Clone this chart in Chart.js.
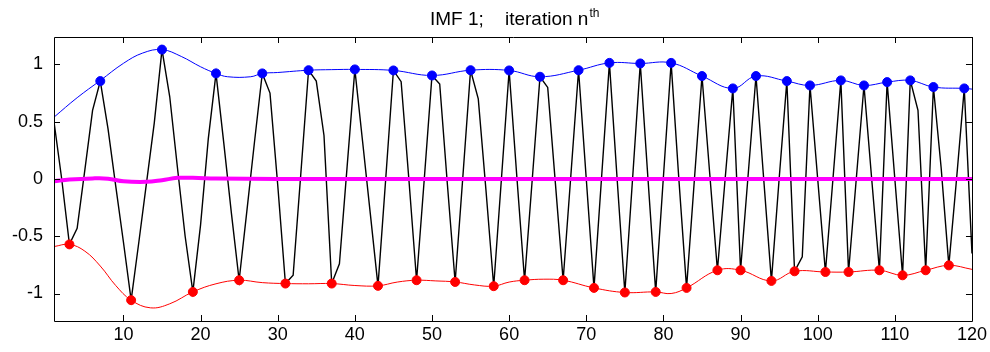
<!DOCTYPE html>
<html>
<head>
<meta charset="utf-8">
<script src="https://cdn.jsdelivr.net/npm/chart.js@4/dist/chart.umd.min.js"></script>
<style>
  html, body { margin: 0; padding: 0; background: #fff; }
  #chart-div { display: block; }
</style>
</head>
<body>
<canvas id="chart-div" width="990" height="352"></canvas>
<script>
// signal samples n = 1..120
var signal = [
   0.50,  0.00, -0.571, -0.43,  0.08,  0.60,  0.855,  0.44, -0.06, -0.55,
  -1.058, -0.55, -0.03,  0.49,  1.13,  0.72,  0.10, -0.50, -0.986, -0.40,
   0.35,  0.922,  0.32, -0.30, -0.884, -0.28,  0.33,  0.922,  0.75, -0.05,
  -0.913, -0.84,  0.05,  0.95,  0.855,  0.38, -0.913, -0.74,  0.11,  0.957,
   0.33, -0.30, -0.933,  0.00,  0.948,  0.85,  0.00, -0.884,  0.00,  0.904,
   0.83, -0.05, -0.899,  0.02,  0.95,  0.70, -0.10, -0.936,  0.00,  0.948,
   0.02, -0.884,  0.00,  0.893,  0.80, -0.04, -0.884,  0.03,  0.95,  0.00,
  -0.951,  0.03,  1.014,  0.00, -0.991,  0.00,  1.009,  0.00, -0.986,  0.02,
   1.014,  0.00, -0.951, -0.02,  0.899,  0.05, -0.797,  0.00,  0.791, -0.797,
   0.05,  0.899,  0.00, -0.89,  0.00,  0.855, -0.806, -0.68,  0.817,  0.00,
  -0.812,  0.02,  0.861, -0.812,  0.00,  0.817,  0.00, -0.797,  0.846,  0.00,
  -0.841,  0.861,  0.60, -0.797,  0.803,  0.10, -0.754,  0.00,  0.791, -0.65
];

// sample numbers of the marked extrema
var maxIdx = [7, 15, 22, 28, 34, 40, 45, 50, 55, 60, 64, 69, 73, 77, 81, 85, 89, 92, 96, 99, 103, 106, 109, 112, 115, 119];
var minIdx = [3, 11, 19, 25, 31, 37, 43, 48, 53, 58, 62, 67, 71, 75, 79, 83, 87, 90, 94, 97, 101, 104, 108, 111, 114, 117];

// envelopes (x, y)
var upperX = [1, 4, 7, 10, 12.5, 15, 17.5, 20, 22, 23.5, 26.5, 28, 30, 34, 37, 40, 45, 50, 55, 60, 64, 69, 73, 77, 81, 85, 89, 92, 96, 99, 103, 106, 109, 112, 115, 119, 120];
var upperY = [0.54, 0.71, 0.86, 1.01, 1.10, 1.13, 1.07, 0.98, 0.922, 0.893, 0.893, 0.922, 0.93, 0.95, 0.955, 0.957, 0.948, 0.904, 0.95, 0.948, 0.893, 0.95, 1.014, 1.009, 1.014, 0.899, 0.791, 0.899, 0.855, 0.817, 0.861, 0.817, 0.846, 0.861, 0.803, 0.791, 0.785];
var lowerX = [1, 3, 5, 7, 9, 11, 13.5, 16, 19, 22, 25, 28, 31, 34, 37, 40, 43, 45.5, 48, 50.5, 53, 55.5, 58, 60, 62, 64.5, 67, 71, 75, 79, 81, 83, 87, 90, 94, 97, 101, 104, 108, 111, 114, 117, 120];
var lowerY = [-0.59, -0.571, -0.63, -0.76, -0.93, -1.058, -1.125, -1.09, -0.986, -0.915, -0.884, -0.905, -0.913, -0.915, -0.913, -0.93, -0.933, -0.90, -0.884, -0.89, -0.899, -0.925, -0.936, -0.90, -0.884, -0.875, -0.884, -0.951, -0.991, -0.986, -1.00, -0.951, -0.797, -0.797, -0.89, -0.806, -0.812, -0.812, -0.797, -0.841, -0.797, -0.754, -0.789];

// mean of the envelopes
var meanX = [1, 3, 6, 8, 10, 13, 15, 17, 19, 22, 30, 60, 90, 120];
var meanY = [-0.02, -0.005, 0.005, 0.003, -0.02, -0.025, -0.01, 0.01, 0.01, 0.005, 0, 0, 0, 0];

var xTicks = [10, 20, 30, 40, 50, 60, 70, 80, 90, 100, 110, 120];
var yTicks = [-1, -0.5, 0, 0.5, 1];

var titleMain = 'IMF 1;    iteration n';
var titleSup = 'th';

function pts(xs, ys) {
    var out = [];
    for (var i = 0; i < xs.length; i++) out.push({x: xs[i], y: ys[i]});
    return out;
}

var sigPts = signal.map(function (v, i) { return {x: i + 1, y: v}; });
var maxPts = maxIdx.map(function (n) { return {x: n, y: signal[n - 1]}; });
var minPts = minIdx.map(function (n) { return {x: n, y: signal[n - 1]}; });

var fontFam = '"Liberation Sans", Arial, sans-serif';

// frame, inward ticks and title with superscript
var matlabAxes = {
    id: 'matlabAxes',
    afterDraw: function (chart) {
        var c = chart.ctx, a = chart.chartArea;
        var xs = chart.scales.x, ys = chart.scales.y;
        c.save();
        c.strokeStyle = '#000';
        c.lineWidth = 1;
        c.beginPath();
        c.rect(Math.round(a.left) + 0.5, Math.round(a.top) + 0.5, Math.round(a.right - a.left), Math.round(a.bottom - a.top));
        xTicks.forEach(function (v) {
            var px = Math.round(xs.getPixelForValue(v)) + 0.5;
            c.moveTo(px, a.bottom); c.lineTo(px, a.bottom - 6);
            c.moveTo(px, a.top); c.lineTo(px, a.top + 6);
        });
        yTicks.forEach(function (v) {
            var py = Math.round(ys.getPixelForValue(v)) + 0.5;
            c.moveTo(a.left, py); c.lineTo(a.left + 6, py);
            c.moveTo(a.right, py); c.lineTo(a.right - 6, py);
        });
        c.stroke();

        c.fillStyle = '#000';
        c.textBaseline = 'alphabetic';
        c.font = '19px ' + fontFam;
        var w1 = c.measureText(titleMain).width;
        c.font = '12px ' + fontFam;
        var w2 = c.measureText(titleSup).width;
        var x0 = 430;
        c.font = '19px ' + fontFam;
        c.fillText(titleMain, x0, 25);
        c.font = '12px ' + fontFam;
        c.fillText(titleSup, x0 + w1 + 1, 17);
        c.restore();
    }
};

var ctx = document.getElementById('chart-div').getContext('2d');

var config = {
    type: 'line',
    data: {
        datasets: [
            { data: sigPts, borderColor: '#000', borderWidth: 1.4, pointRadius: 0, tension: 0, order: 5 },
            { data: pts(upperX, upperY), borderColor: '#0000ff', borderWidth: 1, pointRadius: 0, tension: 0.4, order: 4 },
            { data: pts(lowerX, lowerY), borderColor: '#ff0000', borderWidth: 1, pointRadius: 0, tension: 0.4, order: 4 },
            { data: pts(meanX, meanY), borderColor: '#ff00ff', borderWidth: 4, pointRadius: 0, tension: 0.4, order: 3 },
            { data: maxPts, showLine: false, pointRadius: 4.5, pointBackgroundColor: '#0000ff', pointBorderColor: '#0000ff', pointBorderWidth: 1, order: 1 },
            { data: minPts, showLine: false, pointRadius: 4.5, pointBackgroundColor: '#ff0000', pointBorderColor: '#ff0000', pointBorderWidth: 1, order: 1 }
        ]
    },
    options: {
        responsive: false,
        animation: false,
        events: [],
        layout: { padding: { top: 37, right: 15, left: 0, bottom: 0 } },
        plugins: { legend: { display: false }, title: { display: false }, tooltip: { enabled: false } },
        scales: {
            x: {
                type: 'linear', min: 1, max: 120,
                grid: { display: true, drawOnChartArea: false, drawTicks: false, color: 'rgba(0,0,0,0)' },
                border: { display: false },
                ticks: { color: '#000', font: { family: fontFam, size: 18 }, padding: 3, maxRotation: 0 },
                afterBuildTicks: function (s) { s.ticks = xTicks.map(function (v) { return {value: v}; }); },
                afterFit: function (s) { s.height = 31; }
            },
            y: {
                min: -1.24, max: 1.24,
                grid: { display: true, drawOnChartArea: false, drawTicks: false, color: 'rgba(0,0,0,0)' },
                border: { display: false },
                ticks: {
                    color: '#000', font: { family: fontFam, size: 18 }, padding: 11,
                    callback: function (v) { return String(v); }
                },
                afterBuildTicks: function (s) { s.ticks = yTicks.map(function (v) { return {value: v}; }); },
                afterFit: function (s) { s.width = 54; }
            }
        }
    },
    plugins: [matlabAxes]
};

var chart = new Chart(ctx, config);
</script>
</body>
</html>
